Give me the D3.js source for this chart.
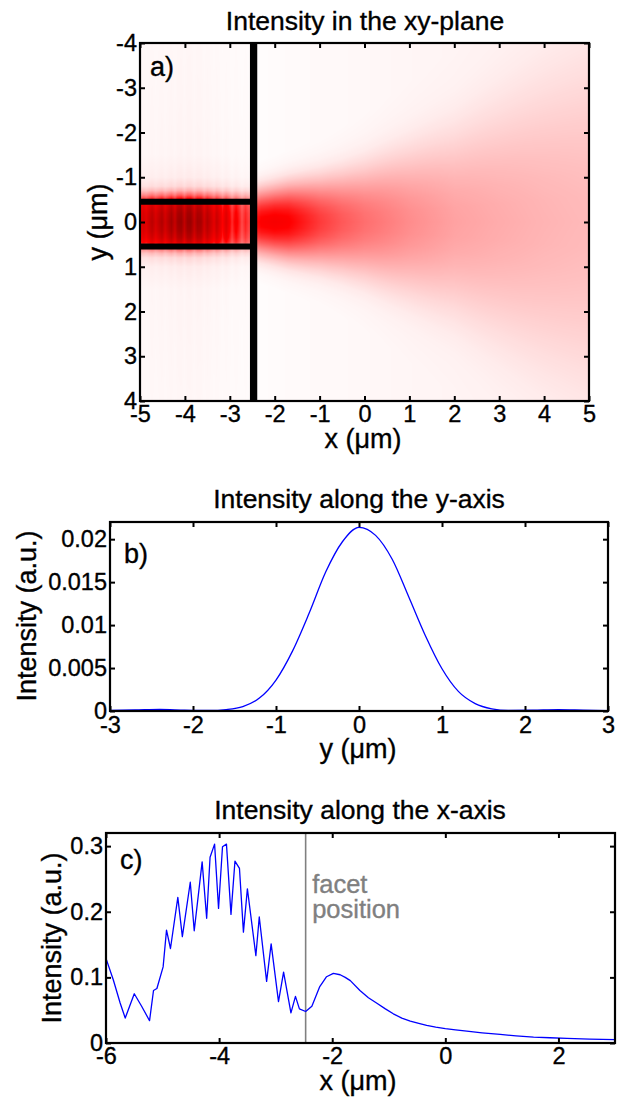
<!DOCTYPE html>
<html><head><meta charset="utf-8">
<script src="https://cdn.jsdelivr.net/npm/d3@7"></script>
<style>
html,body{margin:0;padding:0;background:#fff;}
svg{display:block;font-family:"Liberation Sans",Arial,Helvetica,sans-serif;}
svg text{stroke:currentColor;stroke-width:0.35px;}
</style></head><body>
<svg id="chart" width="627" height="1098"></svg>
<script>
// ================= DATA =================
const facetX = -2.47;          // facet position (um)
const coreEdges = [-0.5, 0.5]; // waveguide core edges (um)

// ---- panel a: intensity map ----
const aXTicks = [-5,-4,-3,-2,-1,0,1,2,3,4,5];
const aYTicks = [-4,-3,-2,-1,0,1,2,3,4];
// on-axis colour level of the free-space beam (0 = white, 0.55 = red, 1 = dark red)
const mapX     = [-2.47, -2.3, -2.0, -1.7, -1.5, -1.0, -0.5, 0.0, 1.0, 2.0, 3.0, 4.0, 5.0];
const mapLevel = [0.50, 0.56, 0.58, 0.56, 0.52, 0.42, 0.35, 0.30, 0.23, 0.18, 0.155, 0.135, 0.12];
const mapWidth = [0.55, 0.58, 0.62, 0.67, 0.70, 0.78, 0.88, 1.00, 1.30, 1.62, 2.05, 2.50, 2.90];
// lateral amplitude profile (distance in units of beam width)
const profD   = [0, 0.2, 0.4, 0.6, 0.8, 1.0, 1.2, 1.4, 1.6, 1.8, 2.0, 2.4];
const profAmp = [1, 0.97, 0.89, 0.77, 0.62, 0.46, 0.31, 0.19, 0.10, 0.055, 0.03, 0.01];
// faint far-field background level
const bgX     = [-2.47, -1.0, 1.0, 3.0, 5.0];
const bgLevel = [0.0, 0.008, 0.018, 0.025, 0.03];
// lateral amplitude profile inside the waveguide (|y| in um)
const coreD   = [0, 0.2, 0.35, 0.45, 0.5, 0.6, 0.7, 0.8, 1.0, 1.5, 4.0];
const coreAmp = [1, 0.96, 0.88, 0.78, 0.6, 0.35, 0.18, 0.09, 0.045, 0.025, 0.02];

// ---- panel b: intensity along the y-axis ----
const bY = [-3, -2.7, -2.4, -2.1, -1.8, -1.6, -1.4, -1.2, -1.0, -0.8, -0.6, -0.4, -0.2, 0, 0.2, 0.4, 0.6, 0.8, 1.0, 1.2, 1.4, 1.6, 1.8, 2.1, 2.4, 2.7, 3];
const bI = [0.00008, 0.00012, 0.00018, 0.00010, 0.00006, 0.00017, 0.00052, 0.0015, 0.0036, 0.0070, 0.0114, 0.0162, 0.0197, 0.02138, 0.02044, 0.01766, 0.01327, 0.00877, 0.00492, 0.00225, 0.00086, 0.00026, 0.000075, 0.0001, 0.00015, 0.0001, 0.00005];
const bXTicks = [-3,-2,-1,0,1,2,3];
const bYTicks = [0,0.005,0.01,0.015,0.02];

// ---- panel c: intensity along the x-axis ----
const cX = [-6.00,-5.87,-5.75,-5.66,-5.50,-5.37,-5.23,-5.16,-5.10,-4.99,-4.93,-4.86,-4.73,-4.65,-4.51,-4.44,-4.30,-4.22,-4.16,-4.08,-4.01,-3.94,-3.87,-3.79,-3.72,-3.64,-3.57,-3.50,-3.35,-3.29,-3.16,-3.08,-2.95,-2.86,-2.73,-2.65,-2.58,-2.47,-2.36,-2.22,-2.10,-1.98,-1.86,-1.77,-1.68,-1.51,-1.36,-1.21,-1.06,-0.92,-0.77,-0.62,-0.47,-0.33,-0.17,0.00,0.18,0.38,0.65,0.97,1.25,1.56,1.85,2.15,2.55,3.00];
const cI = [0.129,0.096,0.061,0.038,0.075,0.056,0.034,0.080,0.083,0.116,0.172,0.144,0.222,0.162,0.245,0.171,0.276,0.190,0.283,0.303,0.205,0.299,0.303,0.196,0.277,0.266,0.169,0.235,0.133,0.192,0.094,0.151,0.063,0.108,0.046,0.071,0.052,0.048,0.056,0.086,0.101,0.106,0.104,0.100,0.095,0.080,0.069,0.0605,0.052,0.0445,0.038,0.0335,0.030,0.027,0.0243,0.022,0.020,0.018,0.0155,0.013,0.011,0.009,0.008,0.007,0.006,0.005];
const cXTicks = [-6,-4,-2,0,2];
const cYTicks = [0,0.1,0.2,0.3];

// ================= DRAWING =================
const svg = d3.select("#chart");
const FONT_TICK = 23.5, FONT_LAB = 27, FONT_TITLE = 26.5, FONT_PANEL = 27;

function frameAxes(g, x, y, xt, yt, opt) {
  const [x0, x1] = x.range(), [y1, y0] = y.range();
  const fmt = d => String(d);
  const bottom = g.append("g").attr("transform", `translate(0,${y1})`)
    .call(d3.axisBottom(x).tickValues(xt).tickFormat(fmt).tickSizeInner(-5).tickSizeOuter(0).tickPadding(opt.xpad));
  const top = g.append("g").attr("transform", `translate(0,${y0})`)
    .call(d3.axisTop(x).tickValues(xt).tickFormat("").tickSizeInner(-5).tickSizeOuter(0));
  const left = g.append("g").attr("transform", `translate(${x0},0)`)
    .call(d3.axisLeft(y).tickValues(yt).tickFormat(fmt).tickSizeInner(-5).tickSizeOuter(0).tickPadding(opt.ypad));
  const right = g.append("g").attr("transform", `translate(${x1},0)`)
    .call(d3.axisRight(y).tickValues(yt).tickFormat("").tickSizeInner(-5).tickSizeOuter(0));
  [bottom, top, left, right].forEach(a => {
    a.select(".domain").remove();
    a.selectAll(".tick line").attr("stroke", "#000").attr("stroke-width", 2);
    a.selectAll("text").attr("fill", "#000").style("color", "#000").style("font-size", FONT_TICK + "px")
      .style("font-family", '"Liberation Sans",Arial,sans-serif');
  });
  g.append("rect").attr("x", x0).attr("y", y0).attr("width", x1 - x0).attr("height", y1 - y0)
    .attr("fill", "none").attr("stroke", "#000").attr("stroke-width", 2.2);
}

function labels(g, opt) {
  g.append("text").attr("x", opt.tx).attr("y", opt.ty).attr("text-anchor", "middle")
    .style("font-size", FONT_TITLE + "px").text(opt.title);
  g.append("text").attr("x", opt.xlx).attr("y", opt.xly).attr("text-anchor", "middle")
    .style("font-size", FONT_LAB + "px").text(opt.xlabel);
  g.append("text").attr("transform", `translate(${opt.ylx},${opt.yly}) rotate(-90)`).attr("text-anchor", "middle")
    .style("font-size", FONT_LAB + "px").text(opt.ylabel);
  g.append("text").attr("x", opt.px).attr("y", opt.py)
    .style("font-size", FONT_PANEL + "px").text(opt.panel);
}

// ---------- panel a ----------
{
  const g = svg.append("g");
  const x = d3.scaleLinear().domain([-5, 5]).range([140, 589]);
  const y = d3.scaleLinear().domain([-4, 4]).range([43, 401]);
  const levelAt = d3.scaleLinear().domain(mapX).range(mapLevel).clamp(true);
  const widthAt = d3.scaleLinear().domain(mapX).range(mapWidth).clamp(true);
  const profile = d3.scaleLinear().domain(profD).range(profAmp).clamp(true);
  const coreProfile = d3.scaleLinear().domain(coreD).range(coreAmp).clamp(true);
  const onAxis = d3.scaleLinear().domain(cX).range(cI).clamp(true);
  const bgAt = d3.scaleLinear().domain(bgX).range(bgLevel).clamp(true);
  const cMax = d3.max(cI);
  const cmap = d3.scaleLinear().domain([0, 0.55, 1]).range(["#ffffff", "#ff0000", "#990000"]).clamp(true);
  const lut = d3.range(1001).map(i => d3.rgb(cmap(i / 1000)));

  const W = 449, H = 358;
  const canvas = document.createElement("canvas");
  canvas.width = W; canvas.height = H;
  const ctx = canvas.getContext("2d");
  const img = ctx.createImageData(W, H);
  for (let j = 0; j < H; j++) {
    const yy = y.invert(43 + j + 0.5), ay = Math.abs(yy);
    for (let i = 0; i < W; i++) {
      const xx = x.invert(140 + i + 0.5);
      let L;
      if (xx < facetX) {
        L = Math.sqrt(onAxis(xx) / cMax) * coreProfile(ay);
      } else {
        L = levelAt(xx) * profile(ay / widthAt(xx)) + bgAt(xx);
      }
      const c = lut[Math.max(0, Math.min(1000, Math.round(L * 1000)))];
      const k = (j * W + i) * 4;
      img.data[k] = c.r; img.data[k + 1] = c.g; img.data[k + 2] = c.b; img.data[k + 3] = 255;
    }
  }
  ctx.putImageData(img, 0, 0);
  g.append("image").attr("x", 140).attr("y", 43).attr("width", W).attr("height", H)
    .attr("preserveAspectRatio", "none").attr("href", canvas.toDataURL());

  // waveguide outline
  coreEdges.forEach(e => {
    g.append("line").attr("x1", x(-5)).attr("x2", x(facetX)).attr("y1", y(e) + 2.2).attr("y2", y(e) + 2.2)
      .attr("stroke", "#000").attr("stroke-width", 6);
  });
  g.append("line").attr("x1", x(facetX)).attr("x2", x(facetX)).attr("y1", y(-4)).attr("y2", y(4))
    .attr("stroke", "#000").attr("stroke-width", 7.3);

  frameAxes(g, x, d3.scaleLinear().domain([4, -4]).range([401, 43]), aXTicks, aYTicks, { xpad: 4, ypad: 3 });
  labels(g, { tx: 365, ty: 30, title: "Intensity in the xy-plane", xlx: 363, xly: 448, xlabel: "x (\u03bcm)",
    ylx: 107, yly: 222, ylabel: "y (\u03bcm)", px: 150, py: 76, panel: "a)" });
}

// ---------- panel b ----------
{
  const g = svg.append("g");
  const x = d3.scaleLinear().domain([-3, 3]).range([110, 608]);
  const y = d3.scaleLinear().domain([0, 0.022]).range([711, 522]);
  const line = d3.line().x((d, i) => x(bY[i])).y((d, i) => y(bI[i])).curve(d3.curveMonotoneX);
  g.append("path").attr("d", line(bY)).attr("fill", "none").attr("stroke", "#0000ff").attr("stroke-width", 1.3);
  frameAxes(g, x, y, bXTicks, bYTicks, { xpad: 5, ypad: 3 });
  labels(g, { tx: 359, ty: 508, title: "Intensity along the y-axis", xlx: 358, xly: 758, xlabel: "y (\u03bcm)",
    ylx: 36, yly: 616, ylabel: "Intensity (a.u.)", px: 124, py: 563, panel: "b)" });
}

// ---------- panel c ----------
{
  const g = svg.append("g");
  const x = d3.scaleLinear().domain([-6, 3]).range([106, 615]);
  const y = d3.scaleLinear().domain([0, 0.32]).range([1043, 833]);
  g.append("line").attr("x1", x(facetX)).attr("x2", x(facetX)).attr("y1", y(0)).attr("y2", y(0.32))
    .attr("stroke", "#808080").attr("stroke-width", 1.6);
  const line = d3.line().x((d, i) => x(cX[i])).y((d, i) => y(cI[i]));
  g.append("path").attr("d", line(cX)).attr("fill", "none").attr("stroke", "#0000ff").attr("stroke-width", 1.3)
    .attr("stroke-linejoin", "round");
  const ft = g.append("text").attr("x", x(facetX) + 6.5).attr("y", 893).attr("fill", "#808080")
    .style("color", "#808080").style("font-size", "25.5px");
  ft.append("tspan").attr("x", x(facetX) + 6.5).text("facet");
  ft.append("tspan").attr("x", x(facetX) + 6.5).attr("dy", 25).text("position");
  frameAxes(g, x, y, cXTicks, cYTicks, { xpad: 4, ypad: 3 });
  labels(g, { tx: 360, ty: 819, title: "Intensity along the x-axis", xlx: 358, xly: 1090, xlabel: "x (\u03bcm)",
    ylx: 61, yly: 938, ylabel: "Intensity (a.u.)", px: 120, py: 869, panel: "c)" });
}
</script></body></html>
